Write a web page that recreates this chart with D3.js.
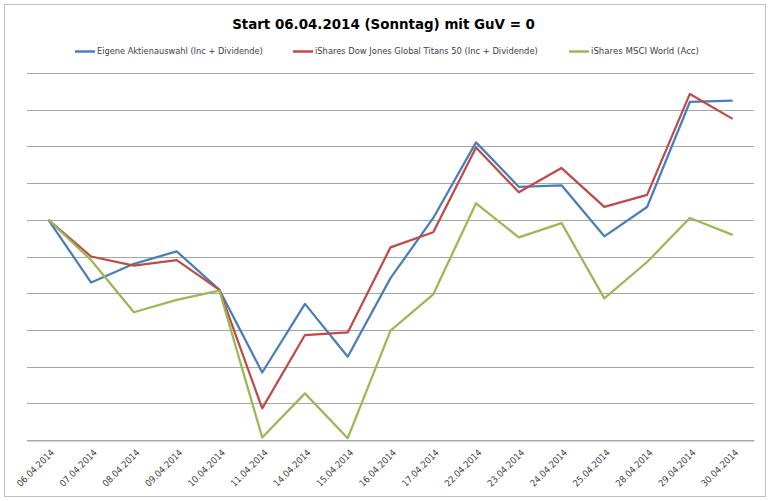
<!DOCTYPE html>
<html><head><meta charset="utf-8">
<script src="https://cdn.jsdelivr.net/npm/d3@7"></script>
<style>body{margin:0;background:#fff}svg{display:block}</style>
</head><body>
<script>
const categories = ["06.04.2014","07.04.2014","08.04.2014","09.04.2014","10.04.2014","11.04.2014","14.04.2014","15.04.2014","16.04.2014","17.04.2014","22.04.2014","23.04.2014","24.04.2014","25.04.2014","28.04.2014","29.04.2014","30.04.2014"];
const eigene = [0,-1.71,-1.20,-0.86,-1.91,-4.16,-2.29,-3.73,-1.59,0.05,2.11,0.90,0.94,-0.45,0.35,3.21,3.25];
const titans = [0,-1.00,-1.25,-1.10,-1.91,-5.14,-3.14,-3.07,-0.75,-0.34,1.97,0.75,1.41,0.35,0.68,3.43,2.75];
const msci = [0,-1.10,-2.52,-2.18,-1.93,-5.93,-4.73,-5.95,-3.02,-2.03,0.45,-0.48,-0.09,-2.14,-1.15,0.05,-0.41];
const seriesNames = ["Eigene Aktienauswahl (Inc + Dividende)","iShares Dow Jones Global Titans 50 (Inc + Dividende)","iShares MSCI World (Acc)"];
const gridTicks = [-6,-5,-4,-3,-2,-1,0,1,2,3,4];
const title = "Start 06.04.2014 (Sonntag) mit GuV = 0";

const colors = ["#4A7EBB","#BE4B48","#98B954"];
const series = [eigene, titans, msci];
const W = 770, H = 501;
const svg = d3.select("body").append("svg").attr("width", W).attr("height", H);
const font = "'Liberation Sans Narrow', 'DejaVu Sans Condensed', 'Liberation Sans', Arial, sans-serif";

svg.append("rect").attr("x",4.5).attr("y",4.5).attr("width",761).attr("height",492)
  .attr("fill","#fff").attr("stroke","#bfbfbf").attr("stroke-width",1);

const x = d3.scaleBand().domain(categories).range([27,754]);
const y = d3.scaleLinear().domain([-6,4]).range([440,73]);

function fit(t, w){
  let fs = parseFloat(t.attr("font-size"));
  const len = t.node().getComputedTextLength();
  t.attr("font-size", fs * w / len);
}

// gridlines
svg.append("g").selectAll("line").data(gridTicks).join("line")
  .attr("x1",27).attr("x2",754).attr("y1",d=>Math.round(y(d))+0.5).attr("y2",d=>Math.round(y(d))+0.5)
  .attr("stroke","#a6a6a6").attr("stroke-width",1);

// x axis
const xAxis = svg.append("g").attr("transform","translate(0,440.5)")
  .call(d3.axisBottom(x).tickSize(0).tickFormat(""));
xAxis.select(".domain").attr("stroke","#a6a6a6");

const labels = svg.append("g").selectAll("text").data(categories).join("text")
  .attr("transform", d=>`translate(${x(d)+x.bandwidth()/2+4},451) rotate(-45)`)
  .attr("text-anchor","end").attr("dy","0.35em")
  .attr("font-family",font).attr("font-size",10).attr("fill","#404040")
  .text(d=>d);
labels.each(function(){ fit(d3.select(this), 48); });

// lines
const line = d3.line().x((d,i)=>x(categories[i])+x.bandwidth()/2).y(d=>y(d));
series.forEach((s,k)=>{
  svg.append("path").datum(s).attr("d",line).attr("fill","none")
    .attr("stroke",colors[k]).attr("stroke-width",2.25).attr("stroke-linejoin","round");
});

// title
const tt = svg.append("text").attr("x",383.5).attr("y",29).attr("text-anchor","middle")
  .attr("font-family",font).attr("font-weight","bold").attr("font-size",18).attr("fill","#000").text(title);
fit(tt, 303);

// legend
const legX = [75, 293, 569];
const legW = [166, 223, 108];
seriesNames.forEach((n,k)=>{
  svg.append("line").attr("x1",legX[k]).attr("x2",legX[k]+20).attr("y1",51.5).attr("y2",51.5)
    .attr("stroke",colors[k]).attr("stroke-width",2.5);
  const t = svg.append("text").attr("x",legX[k]+22).attr("y",51).attr("dy","0.35em")
    .attr("font-family",font).attr("font-size",10).attr("fill","#404040").text(n);
  fit(t, legW[k]);
});
</script>
</body></html>
